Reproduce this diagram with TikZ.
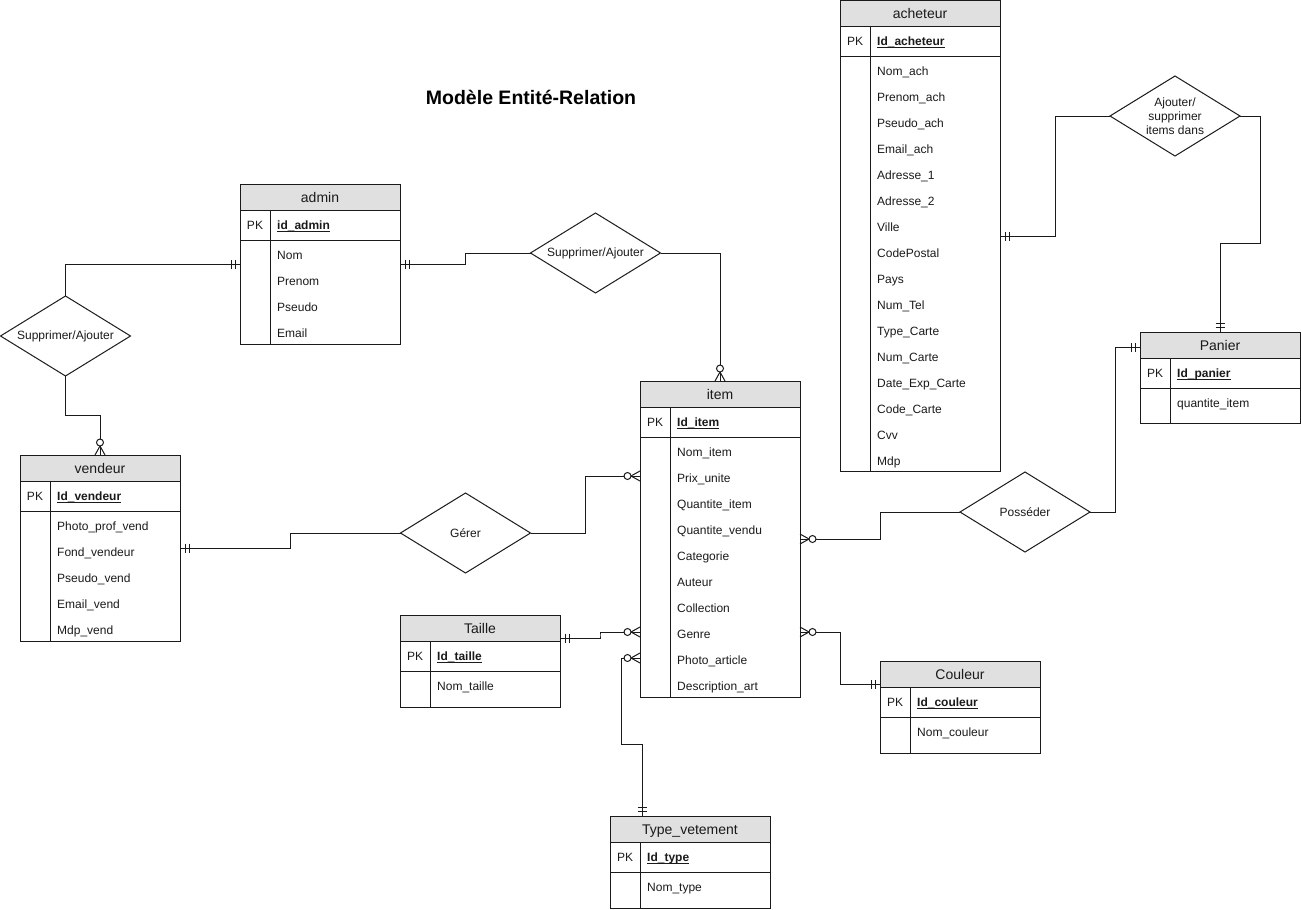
\documentclass[tikz,border=0pt]{standalone}
\usepackage{fontspec}
\setmainfont{Liberation Sans}
\usetikzlibrary{calc}
\definecolor{hdr}{HTML}{E0E0E0}
\definecolor{ink}{HTML}{1A1A1A}
\newcommand{\keyul}[1]{\setbox0\hbox{#1}\rlap{\rule[-2.3pt]{\wd0}{0.9pt}}\box0}
\tikzset{
  tbl/.style={draw=ink, line width=1pt, minimum width=160pt, anchor=north west, inner sep=0pt, outer sep=0pt},
  tline/.style={draw=ink, line width=1pt},
  txt/.style={font=\fontsize{12}{14}\selectfont, text=ink, inner sep=0pt, anchor=base},
  ttl/.style={font=\fontsize{14}{16}\selectfont, text=ink, inner sep=0pt, anchor=base},
  conn/.style={draw=ink, line width=1pt},
  reln/.style={minimum width=130pt, minimum height=80pt, inner sep=0pt, outer sep=0pt, align=center, font=\fontsize{12}{14}\selectfont, text=ink},
  mone/.pic={\draw[conn] (5,-4.5) -- (5,4.5) (9,-4.5) -- (9,4.5);},
  zmany/.pic={\draw[conn] (0,-5) -- (9,0) -- (0,5); \draw[conn, fill=white] (12.5,0) circle[radius=3.5pt];}
}
\newcommand{\ertab}[7]{%
\begin{scope}[shift={(#2,#3)}]
  \fill[hdr] (0,0) rectangle (160,26);
  \node[tbl, minimum height=#4] (#1) at (0,0) {};
  \draw[tline] (0,26) -- (160,26) (0,56) -- (160,56) (30,26) -- (30,#4);
  \node[ttl] (#1-t) at (80,18) {#5};
  \node[txt] (#1-pkl) at (15,45.3) {PK};
  \node[txt, anchor=base west] (#1-k) at (37,45.3) {\bfseries\keyul{#6}};
  \foreach \a [count=\i] in {#7} {
    \node[txt, anchor=base west] (#1-a\i) at (37,{75.3+26*(\i-1)}) {\a};
    \coordinate (#1-r\i) at (0,{69+26*(\i-1)});
  }
\end{scope}}
\begin{document}
\begin{tikzpicture}[x=1pt,y=-1pt]
\useasboundingbox (0,0) rectangle (1301,910);

\node[font=\bfseries\fontsize{19.5}{23}\selectfont, text=black, inner sep=0pt, anchor=base] (title) at (531,104) {Modèle Entité-Relation};

% tables
\ertab{admin}{240}{184}{160}{admin}{id\_admin}{Nom,Prenom,Pseudo,Email}
\ertab{vendeur}{20}{455}{186}{vendeur}{Id\_vendeur}{Photo\_prof\_vend,Fond\_vendeur,Pseudo\_vend,Email\_vend,Mdp\_vend}
\ertab{item}{640}{381}{316}{item}{Id\_item}{Nom\_item,Prix\_unite,Quantite\_item,Quantite\_vendu,Categorie,Auteur,Collection,Genre,Photo\_article,Description\_art}
\ertab{acheteur}{840}{0.5}{471}{acheteur}{Id\_acheteur}{Nom\_ach,Prenom\_ach,Pseudo\_ach,Email\_ach,Adresse\_1,Adresse\_2,Ville,CodePostal,Pays,Num\_Tel,Type\_Carte,Num\_Carte,Date\_Exp\_Carte,Code\_Carte,Cvv,Mdp}
\ertab{panier}{1140}{332}{91}{Panier}{Id\_panier}{quantite\_item}
\ertab{taille}{400}{615.5}{92}{Taille}{Id\_taille}{Nom\_taille}
\ertab{couleur}{880}{661.5}{92}{Couleur}{Id\_couleur}{Nom\_couleur}
\ertab{tv}{610}{816}{92}{Type\_vetement}{Id\_type}{Nom\_type}

% relationships
\node[reln] (rel1) at (65.5,336) {Supprimer/Ajouter};
\node[reln] (rel2) at (595.5,253) {Supprimer/Ajouter};
\node[reln] (gerer) at (465.5,533) {Gérer};
\node[reln] (posseder) at (1025,512) {Posséder};
\node[reln] (rel3) at (1175,116) {Ajouter/\\supprimer\\items dans};
\foreach \r in {rel1,rel2,gerer,posseder,rel3}
  \draw[conn] (\r.north) -- (\r.east) -- (\r.south) -- (\r.west) -- cycle;

% connectors
\draw[conn] (rel1.north) |- (admin.west);
\pic[rotate=180] at (admin.west) {mone};

\draw[conn] (rel1.south) |- ($(rel1.south)!.5!(vendeur.north)$) -| (vendeur.north);
\pic[rotate=90] at (vendeur.north) {zmany};

\draw[conn] (admin.east) -| ($(admin.east)!.5!(rel2.west)$) |- (rel2.west);
\pic at (admin.east) {mone};

\draw[conn] (rel2.east) -| (item.north);
\pic[rotate=90] at (item.north) {zmany};

\draw[conn] (vendeur.east) -| ($(vendeur.east)!.5!(gerer.west)$) |- (gerer.west);
\pic at (vendeur.east) {mone};

\draw[conn] (gerer.east) -| ($(gerer.east)!.5!(item-r2)$) |- (item-r2);
\pic[rotate=180] at (item-r2) {zmany};

\draw[conn] (item.east) -| ($(item.east)!.5!(posseder.west)$) |- (posseder.west);
\pic at (item.east) {zmany};

\coordinate (panierL) at ($(panier.north west)+(0,15)$);
\draw[conn] (posseder.east) -| ($(posseder.east)!.5!(panierL)$) |- (panierL);
\pic[rotate=180] at (panierL) {mone};

\draw[conn] (acheteur.east) -| ($(acheteur.east)!.5!(rel3.west)$) |- (rel3.west);
\pic at (acheteur.east) {mone};

\draw[conn] (rel3.east) -- ++(20,0) -- ++(0,127) -| (panier.north);
\pic[rotate=90] at (panier.north) {mone};

\coordinate (tailleR) at ($(taille.north east)+(0,22.5)$);
\draw[conn] (tailleR) -| ($(tailleR)!.5!(item-r8)$) |- (item-r8);
\pic at (tailleR) {mone};
\pic[rotate=180] at (item-r8) {zmany};

\coordinate (tvT) at ($(tv.north west)+(32,0)$);
\draw[conn] (item-r9) -- ++(-19,0) -- ++(0,86) -| (tvT);
\pic[rotate=180] at (item-r9) {zmany};
\pic[rotate=90] at (tvT) {mone};

\coordinate (itemR8) at (item.east |- item-r8);
\coordinate (couleurL) at ($(couleur.north west)+(0,22.5)$);
\draw[conn] (itemR8) -| ($(itemR8)!.5!(couleurL)$) |- (couleurL);
\pic at (itemR8) {zmany};
\pic[rotate=180] at (couleurL) {mone};
\end{tikzpicture}
\end{document}
